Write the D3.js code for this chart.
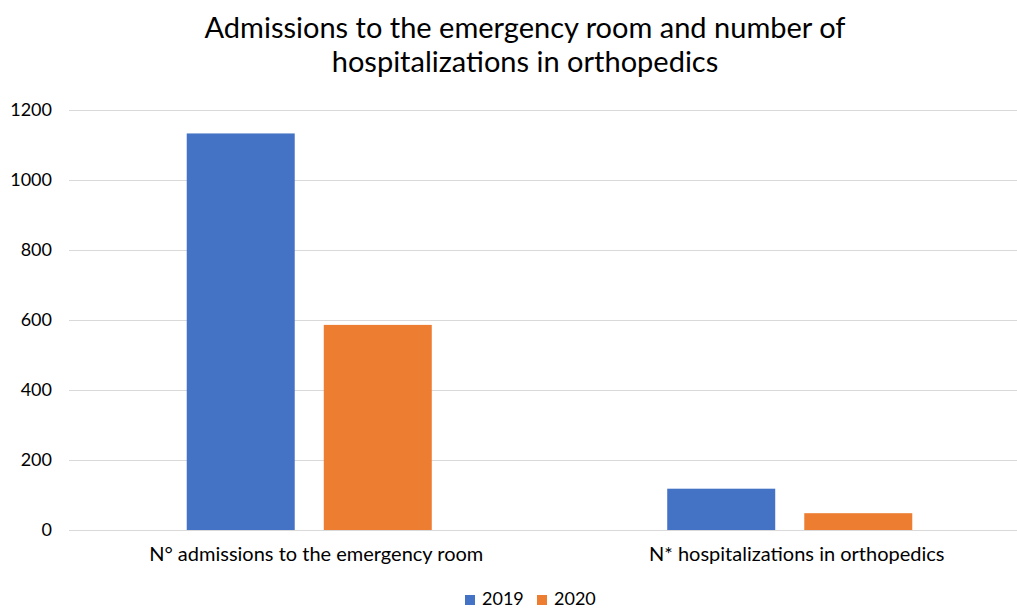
<!DOCTYPE html>
<html>
<head>
<meta charset="utf-8">
<script src="https://cdn.jsdelivr.net/npm/d3@7"></script>
<style>
  html, body { margin: 0; padding: 0; background: #fff; }
  svg { display: block; font-family: Lato, "Open Sans", sans-serif; }
</style>
</head>
<body>
<svg id="chart" width="1017" height="608"></svg>
<script>
// Chart data
const categories = ["N° admissions to the emergency room", "N* hospitalizations in orthopedics"];
const seriesNames = ["2019", "2020"];
const values2019 = [1133, 118];
const values2020 = [586, 48];
const yTicks = [0, 200, 400, 600, 800, 1000, 1200];
const titleLines = ["Admissions to the emergency room and number of", "hospitalizations in orthopedics"];

const colors = { "2019": "#4472C4", "2020": "#ED7D31" };
const seriesValues = { "2019": values2019, "2020": values2020 };

const svg = d3.select("#chart");
const W = 1017, H = 608;
const plot = { left: 69, right: 1030, top: 110, bottom: 530 };

const y = d3.scaleLinear().domain([0, 1200]).range([plot.bottom, plot.top]);
const x0 = d3.scaleBand().domain(categories).range([plot.left, plot.right])
  .paddingInner(0.49).paddingOuter(0.245);
const x1 = d3.scaleBand().domain(seriesNames).range([0, x0.bandwidth()]).paddingInner(0.212);

// Title
svg.append("g").selectAll("text").data(titleLines).join("text")
  .attr("x", 525).attr("y", (d, i) => 38 + i * 34)
  .attr("text-anchor", "middle")
  .attr("font-size", 29).attr("fill", "#000")
  .text(d => d);

// Gridlines
svg.append("g").selectAll("line").data(yTicks).join("line")
  .attr("x1", plot.left).attr("x2", W)
  .attr("y1", d => Math.round(y(d)) + 0.5).attr("y2", d => Math.round(y(d)) + 0.5)
  .attr("stroke", "#d9d9d9").attr("stroke-width", 1);

// Y axis labels
const yAxis = d3.axisLeft(y).tickValues(yTicks).tickFormat(d3.format("d")).tickSize(0).tickPadding(0);
const yg = svg.append("g").attr("transform", `translate(52,0)`).call(yAxis);
yg.select(".domain").remove();
yg.selectAll("text").attr("font-size", 18).attr("fill", "#000").attr("font-family", "Lato, sans-serif");

// Bars
const rows = categories.map((c, i) => ({ cat: c, vals: seriesNames.map(s => ({ s, v: seriesValues[s][i] })) }));
svg.append("g").selectAll("g").data(rows).join("g")
  .attr("transform", d => `translate(${x0(d.cat)},0)`)
  .selectAll("rect").data(d => d.vals).join("rect")
  .attr("x", d => x1(d.s))
  .attr("width", x1.bandwidth())
  .attr("y", d => y(d.v))
  .attr("height", d => y(0) - y(d.v))
  .attr("fill", d => colors[d.s]);

// Category labels
svg.append("g").selectAll("text").data(categories).join("text")
  .attr("x", d => x0(d) + x0.bandwidth() / 2 + 7)
  .attr("y", 561)
  .attr("text-anchor", "middle")
  .attr("font-size", 20).attr("fill", "#000")
  .text(d => d);

// Legend
const legend = svg.append("g").selectAll("g").data(seriesNames).join("g")
  .attr("transform", (d, i) => `translate(${465 + i * 72},595)`);
legend.append("rect").attr("width", 10).attr("height", 10).attr("fill", d => colors[d]);
legend.append("text").attr("x", 17).attr("y", 10)
  .attr("font-size", 18).attr("fill", "#000").text(d => d);
</script>
</body>
</html>
